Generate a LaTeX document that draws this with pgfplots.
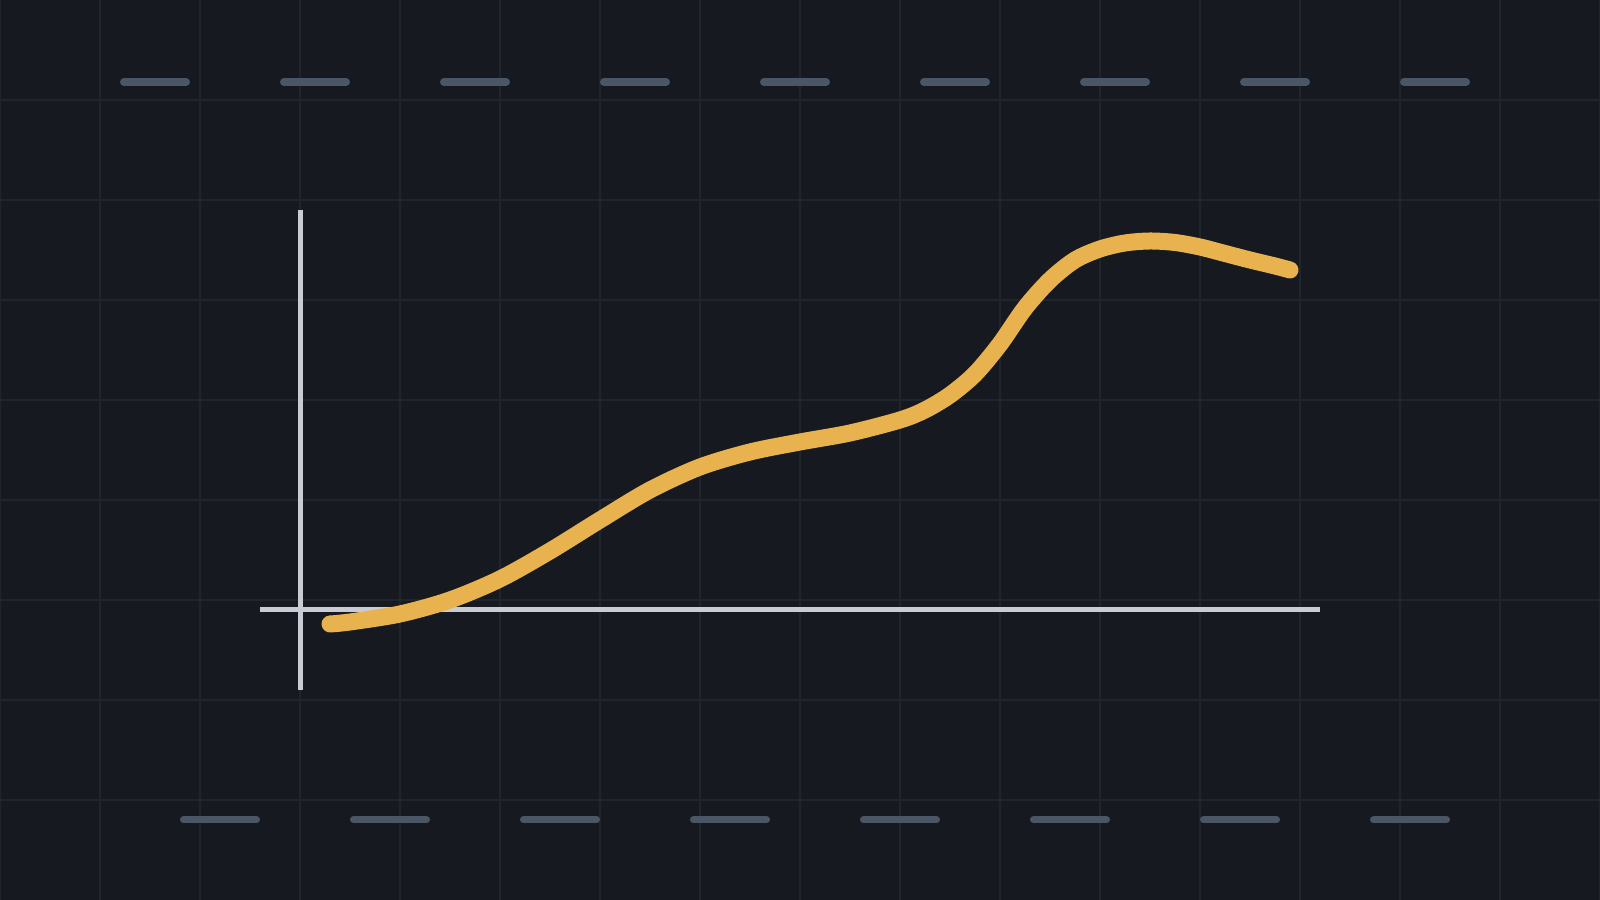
\documentclass[border=0pt]{standalone}
\usepackage{pgfplots}
\pgfplotsset{compat=1.18}

\definecolor{bgc}{HTML}{16191F}
\definecolor{gridc}{HTML}{20242C}
\definecolor{dashc}{HTML}{4A5566}
\definecolor{axisc}{HTML}{C9CCD5}
\definecolor{curvec}{HTML}{E8B34F}

\begin{document}
\begin{tikzpicture}
\begin{axis}[%
    ,name=main
    ,scale only axis
    ,width=16cm, height=9cm
    ,xmin=-3, xmax=13
    ,ymin=-2.9, ymax=6.1
    ,axis background/.style={fill=bgc}
    ,axis line style={draw=none}
    ,xtick={-3,...,13}
    ,ytick={-1.9,-0.9,0.1,1.1,2.1,3.1,4.1,5.1}
    ,xticklabels={}, yticklabels={}
    ,major tick length=0pt
    ,grid=major
    ,grid style={color=gridc, line width=0.2mm}
    ,clip=true
    ]
	% decorative dash rows, top and bottom
	\addplot[no marks, dashc, line width=0.8mm, line cap=round,
	    dash pattern=on 6.2mm off 9.8mm] coordinates {(-1.76,5.28) (11.66,5.28)};
	\addplot[no marks, dashc, line width=0.7mm, line cap=round,
	    dash pattern=on 7.3mm off 9.7mm] coordinates {(-1.165,-2.1) (11.465,-2.1)};
	% axis cross
	\addplot[no marks, axisc, line width=0.5mm] coordinates {(0,4.0) (0,-0.8)};
	\addplot[no marks, axisc, line width=0.5mm] coordinates {(-0.4,0) (10.2,0)};
	% the curve
	\addplot[no marks, curvec, line width=1.7mm, line cap=round, line join=round, smooth] coordinates {
	    (0.30,-0.14) (0.50,-0.12) (1.00,-0.04) (1.50,0.10) (2.00,0.31)
	    (2.50,0.59) (3.00,0.90) (3.50,1.20) (4.00,1.43) (4.50,1.58)
	    (5.00,1.68) (5.50,1.77) (6.00,1.90) (6.25,2.00) (6.50,2.15)
	    (6.75,2.36) (7.00,2.66) (7.25,3.02) (7.50,3.30) (7.75,3.50)
	    (8.00,3.61) (8.25,3.67) (8.50,3.69) (8.75,3.675) (9.00,3.63)
	    (9.25,3.565) (9.50,3.50) (9.75,3.44) (9.90,3.40)};
\end{axis}
\pgfresetboundingbox
\path (main.south west) rectangle (main.north east);
\end{tikzpicture}
\end{document}
